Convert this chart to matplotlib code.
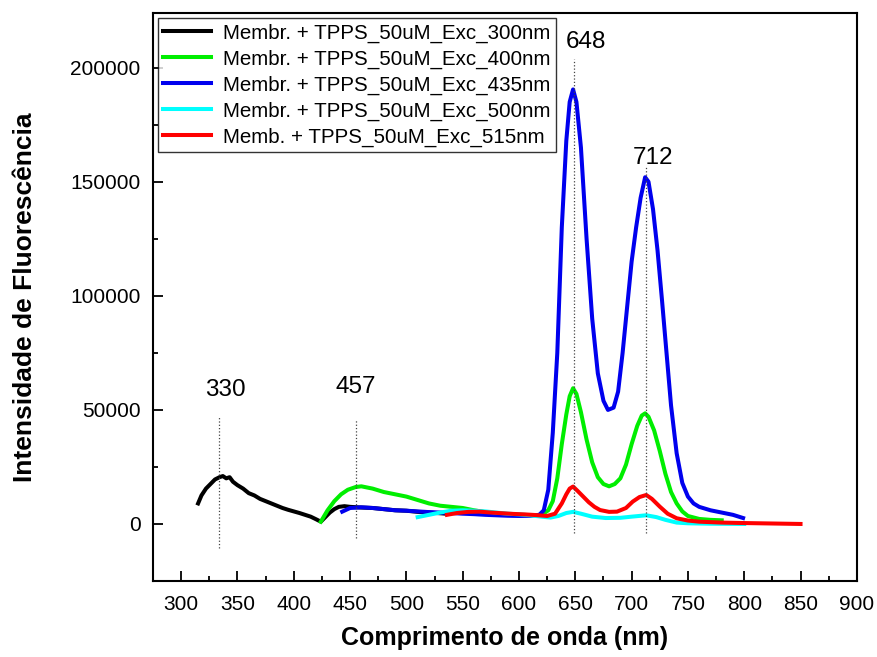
import matplotlib
matplotlib.use("Agg")
import matplotlib.pyplot as plt
from matplotlib.ticker import MultipleLocator

plt.rcParams["font.family"] = ["Liberation Sans", "DejaVu Sans"]

# Exc 300 nm
black_x = [315, 318, 322, 326, 330, 334, 337, 340, 343, 346, 350, 355, 360, 365, 370, 375,
           380, 385, 390, 395, 400, 405, 410, 415, 420, 424, 428, 432, 436, 440, 445, 450,
           460, 470, 480, 490, 500, 510, 520, 530, 535]
black_y = [9000, 12500, 15500, 17500, 19500, 20500, 21000, 20000, 20500, 18500, 17000, 15500,
           13500, 12500, 11000, 10000, 9000, 8000, 7000, 6200, 5500, 4800, 4000, 3200, 2000,
           1000, 3000, 5000, 6500, 7500, 7800, 7500, 7200, 7000, 6500, 6000, 5800, 5300, 5000,
           4700, 4500]

# Exc 400 nm
green_x = [424, 430, 436, 442, 448, 455, 460, 465, 470, 480, 490, 500, 510, 520, 530, 540,
           550, 560, 570, 580, 590, 600, 610, 620, 626, 630, 634, 638, 642, 645, 648, 651,
           655, 660, 665, 670, 675, 680, 685, 690, 695, 700, 705, 709, 712, 715, 720, 725,
           730, 735, 740, 745, 750, 760, 770, 780]
green_y = [1000, 6000, 10000, 13000, 15000, 16200, 16500, 16000, 15500, 14000, 13000, 12000,
           10500, 9000, 8000, 7500, 7000, 6000, 5200, 4700, 4300, 4000, 3800, 4000, 6000,
           10000, 20000, 35000, 48000, 56000, 59500, 57000, 49000, 37000, 27000, 20500, 17500,
           16500, 17500, 20000, 26000, 35000, 43000, 47500, 48500, 47000, 41000, 32000, 22000,
           14000, 9000, 5500, 3500, 2200, 1800, 1600]

# Exc 435 nm
blue_x = [443, 450, 460, 470, 480, 490, 500, 510, 520, 530, 540, 550, 560, 570, 580, 590,
          600, 610, 618, 622, 626, 630, 634, 638, 642, 645, 648, 651, 655, 660, 665, 670,
          675, 679, 684, 688, 692, 696, 700, 704, 708, 712, 715, 719, 723, 727, 731, 735,
          740, 745, 750, 755, 760, 770, 780, 790, 799]
blue_y = [5400, 7000, 7300, 7000, 6500, 6000, 5800, 5500, 5200, 5000, 4800, 4500, 4300, 4000,
          3800, 3600, 3500, 3600, 4000, 6000, 15000, 40000, 75000, 130000, 168000, 185000,
          190500, 185000, 165000, 125000, 90000, 66000, 54000, 50000, 51000, 58000, 75000,
          95000, 115000, 130000, 143000, 152000, 150000, 138000, 120000, 98000, 75000, 52000,
          31000, 18000, 12000, 9000, 7500, 6000, 5000, 4000, 2600]

# Exc 500 nm
cyan_x = [510, 520, 530, 540, 550, 560, 570, 580, 590, 600, 610, 620, 628, 635, 642, 648,
          655, 665, 677, 690, 700, 713, 722, 730, 740, 750, 770, 800]
cyan_y = [3000, 4000, 5000, 5800, 6000, 5800, 5500, 5000, 4500, 4200, 3800, 3200, 2800, 3500,
          4800, 5300, 4500, 3200, 2600, 2700, 3200, 3800, 3000, 1800, 600, 300, 100, 0]

# Exc 515 nm
red_x = [536, 545, 555, 565, 575, 585, 595, 605, 615, 625, 632, 638, 642, 645, 648, 652, 657,
         662, 667, 672, 680, 687, 695, 701, 707, 713, 718, 725, 732, 740, 750, 760, 780, 800,
         825, 850]
red_y = [4000, 4800, 5300, 5400, 5000, 4700, 4400, 4200, 3900, 3500, 4500, 9000, 13000, 15500,
         16400, 14500, 12000, 9500, 7500, 6100, 5300, 5400, 7000, 9800, 11800, 12700, 11000,
         7600, 4500, 2500, 1500, 1000, 600, 400, 200, 0]

labels = ["Membr. + TPPS_50uM_Exc_300nm", "Membr. + TPPS_50uM_Exc_400nm",
          "Membr. + TPPS_50uM_Exc_435nm", "Membr. + TPPS_50uM_Exc_500nm",
          "Memb. + TPPS_50uM_Exc_515nm"]
colors = ["black", "#00ee00", "#0000ee", "cyan", "red"]

# peak marks: (label, line x, line y0, line y1, text x, text y)
peaks = [("330", 334, -10500, 47000, 339, 56000),
         ("457", 455, -6000, 45500, 455, 57500),
         ("648", 649, -4000, 204000, 659, 208500),
         ("712", 713, -4000, 156500, 719, 158000)]

fig = plt.figure(figsize=(8.77, 6.57), dpi=100)
ax = fig.add_axes([0.1745, 0.1157, 0.8025, 0.8645])

series = [(black_x, black_y), (green_x, green_y), (blue_x, blue_y),
          (cyan_x, cyan_y), (red_x, red_y)]
for (xs, ys), lab, c in zip(series, labels, colors):
    ax.plot(xs, ys, color=c, lw=2.9, label=lab)

for txt, lx, y0, y1, tx, ty in peaks:
    ax.plot([lx, lx], [y0, y1], color="#444444", ls=":", lw=0.9)
    ax.text(tx, ty, txt, fontsize=17.5, ha="center", va="baseline")

ax.set_xlim(275, 900)
ax.set_ylim(-25000, 224000)
ax.xaxis.set_major_locator(MultipleLocator(50))
ax.xaxis.set_minor_locator(MultipleLocator(25))
ax.yaxis.set_major_locator(MultipleLocator(50000))
ax.yaxis.set_minor_locator(MultipleLocator(25000))
ax.tick_params(which="both", direction="in", width=1.3, labelsize=15)
ax.tick_params(which="major", length=7)
ax.tick_params(which="minor", length=3.5)
ax.tick_params(axis="x", pad=10)
ax.tick_params(axis="y", pad=9)
for s in ax.spines.values():
    s.set_linewidth(1.5)

ax.set_xlabel("Comprimento de onda (nm)", fontsize=18, fontweight="bold", labelpad=9)
ax.set_ylabel("Intensidade de Fluorescência", fontsize=19, fontweight="bold", labelpad=24)

leg = ax.legend(loc="upper left", fontsize=14.8, frameon=True, fancybox=False,
                edgecolor="black", handlelength=2.3, labelspacing=0.33,
                borderaxespad=0.25, borderpad=0.25, handletextpad=0.6)
leg.get_frame().set_linewidth(1.0)

fig.savefig("out.png", dpi=100)
